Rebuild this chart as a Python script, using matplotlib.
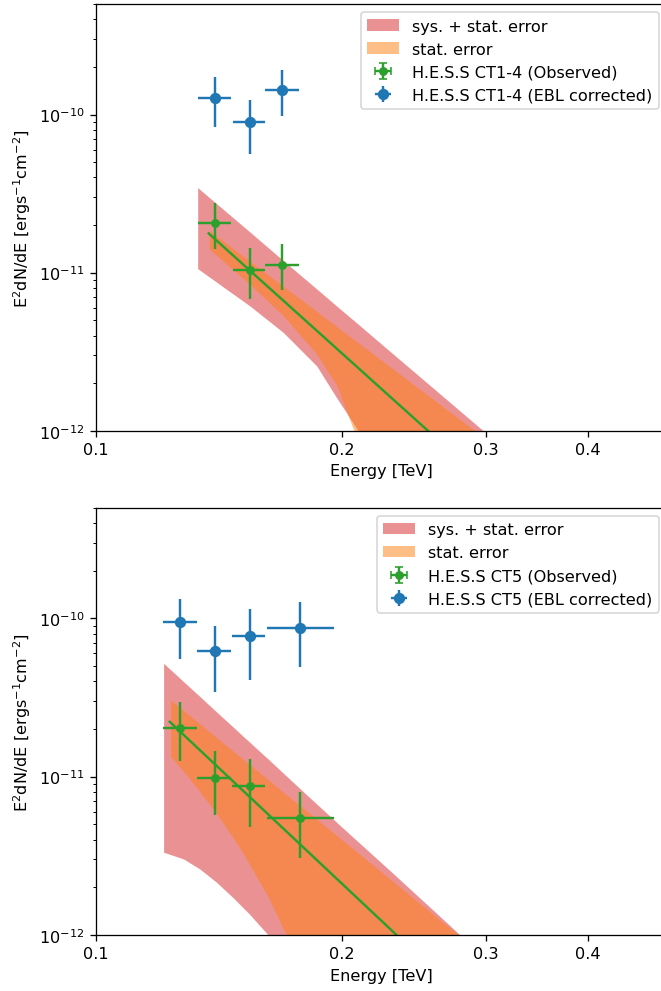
import numpy as np
import matplotlib
matplotlib.use("Agg")
import matplotlib.pyplot as plt
from matplotlib.ticker import NullLocator


# CT1-4 : flux points [TeV, erg s^-1 cm^-2]
# ------------------------------------------
ct14_e = [0.1398, 0.1542, 0.1690]
ct14_e_lo = [0.1334, 0.1470, 0.1610]
ct14_e_hi = [0.1463, 0.1610, 0.1770]
ct14_obs = [2.05e-11, 1.04e-11, 1.12e-11]
ct14_obs_lo = [1.42e-11, 6.8e-12, 7.8e-12]
ct14_obs_hi = [2.77e-11, 1.44e-11, 1.51e-11]
ct14_ebl = [1.27e-10, 8.95e-11, 1.44e-10]
ct14_ebl_lo = [8.4e-11, 5.67e-11, 9.75e-11]
ct14_ebl_hi = [1.73e-10, 1.24e-10, 1.905e-10]

# CT1-4 : butterflies and best fit
ct14_sys_e = [0.1332, 0.1376, 0.1543, 0.1696, 0.1863, 0.197, 0.2094, 0.23, 0.26, 0.2979]
ct14_sys_lo = [1.06e-11, 9.4e-12, 6.16e-12, 4.18e-12, 2.57e-12, 1.62e-12, 1e-12, 1e-12, 1e-12, 1e-12]
ct14_sys_hi = [3.45e-11, 2.99e-11, 1.81e-11, 1.19e-11, 7.89e-12, 6.16e-12, 4.72e-12, 3.12e-12, 1.82e-12, 1e-12]
ct14_stat_e = [0.1376, 0.1543, 0.1696, 0.1863, 0.197, 0.2069, 0.23, 0.26, 0.291]
ct14_stat_lo = [1.41e-11, 8.45e-12, 5.33e-12, 3.05e-12, 1.95e-12, 1e-12, 1e-12, 1e-12, 1e-12]
ct14_stat_hi = [1.85e-11, 1.18e-11, 8.19e-12, 5.69e-12, 4.57e-12, 3.78e-12, 2.50e-12, 1.55e-12, 1e-12]
ct14_fit_e = [0.1374, 0.2549]
ct14_fit_f = [1.77e-11, 1e-12]

# CT5 : flux points
# -----------------
ct5_e = [0.1269, 0.1398, 0.1542, 0.1779]
ct5_e_lo = [0.1208, 0.1330, 0.1468, 0.1618]
ct5_e_hi = [0.1329, 0.1465, 0.1610, 0.1957]
ct5_obs = [2.02e-11, 9.86e-12, 8.78e-12, 5.46e-12]
ct5_obs_lo = [1.256e-11, 5.73e-12, 4.83e-12, 3.08e-12]
ct5_obs_hi = [2.94e-11, 1.45e-11, 1.30e-11, 7.96e-12]
ct5_ebl = [9.53e-11, 6.22e-11, 7.77e-11, 8.73e-11]
ct5_ebl_lo = [5.53e-11, 3.44e-11, 4.08e-11, 4.91e-11]
ct5_ebl_hi = [1.32e-10, 8.99e-11, 1.145e-10, 1.26e-10]

# CT5 : butterflies and best fit
ct5_sys_e = [0.121, 0.128, 0.134, 0.1405, 0.147, 0.154, 0.1625, 0.18, 0.2, 0.23, 0.26, 0.279]
ct5_sys_lo = [3.33e-12, 3.02e-12, 2.61e-12, 2.15e-12, 1.73e-12, 1.36e-12, 1e-12, 1e-12, 1e-12, 1e-12, 1e-12, 1e-12]
ct5_sys_hi = [5.2e-11, 3.98e-11, 3.21e-11, 2.56e-11, 2.07e-11, 1.66e-11, 1.29e-11, 7.9e-12, 4.8e-12, 2.5e-12, 1.4e-12, 1e-12]
ct5_stat_e = [0.1234, 0.13, 0.14, 0.15, 0.1625, 0.171, 0.18, 0.2, 0.23, 0.26, 0.278]
ct5_stat_lo = [1.34e-11, 9.8e-12, 6.0e-12, 3.55e-12, 1.74e-12, 1e-12, 1e-12, 1e-12, 1e-12, 1e-12, 1e-12]
ct5_stat_hi = [3.05e-11, 2.45e-11, 1.79e-11, 1.34e-11, 9.57e-12, 7.7e-12, 6.22e-12, 4.0e-12, 2.22e-12, 1.32e-12, 1e-12]
ct5_fit_e = [0.1231, 0.2333]
ct5_fit_f = [2.22e-11, 1e-12]

x_ticks = [0.1, 0.2, 0.3, 0.4]
x_tick_labels = ["0.1", "0.2", "0.3", "0.4"]
y_ticks = [1e-12, 1e-11, 1e-10]

# the reference looks like a default-styled figure drawn at ~116 dpi
DPI = 116


def asym(val, lo, hi):
    val = np.asarray(val)
    return [val - np.asarray(lo), np.asarray(hi) - val]


def draw_panel(ax, p):
    sys_band = ax.fill_between(
        p["sys_e"], p["sys_lo"], p["sys_hi"],
        color="tab:red", alpha=0.5, linewidth=0,
        label="sys. + stat. error",
    )
    stat_band = ax.fill_between(
        p["stat_e"], p["stat_lo"], p["stat_hi"],
        color="tab:orange", alpha=0.5, linewidth=0,
        label="stat. error",
    )
    ax.plot(p["fit_e"], p["fit_f"], color="tab:green", linewidth=1.5)

    ax.errorbar(
        p["e"], p["obs"],
        xerr=asym(p["e"], p["e_lo"], p["e_hi"]),
        yerr=asym(p["obs"], p["obs_lo"], p["obs_hi"]),
        fmt="o", markersize=4.5, color="tab:green", elinewidth=1.5,
    )
    # legend proxy (the legend glyph has caps, the points do not)
    obs_proxy = ax.errorbar(
        [np.nan], [np.nan], xerr=[1.], yerr=[1.],
        fmt="o", markersize=4.5, color="tab:green", elinewidth=1.5,
        capsize=2.5, label=f"H.E.S.S {p['name']} (Observed)",
    )
    ebl = ax.errorbar(
        p["e"], p["ebl"],
        xerr=asym(p["e"], p["e_lo"], p["e_hi"]),
        yerr=asym(p["ebl"], p["ebl_lo"], p["ebl_hi"]),
        fmt="o", markersize=6, color="tab:blue", elinewidth=1.5,
        label=f"H.E.S.S {p['name']} (EBL corrected)",
    )

    ax.set_xscale("log")
    ax.set_yscale("log")
    ax.set_xlim(0.1, 0.5)
    ax.set_ylim(1e-12, 5e-10)
    ax.set_xticks(x_ticks)
    ax.set_xticklabels(x_tick_labels)
    ax.xaxis.set_minor_locator(NullLocator())
    ax.set_yticks(y_ticks)

    ax.set_xlabel("Energy [TeV]")
    ax.set_ylabel(r"E$^2$dN/dE [ergs$^{-1}$cm$^{-2}$]")
    ax.legend(
        handles=[sys_band, stat_band, obs_proxy, ebl],
        loc="upper right",
    )


if __name__ == "__main__":
    panels = [
        dict(name="CT1-4", e=ct14_e, e_lo=ct14_e_lo, e_hi=ct14_e_hi,
             obs=ct14_obs, obs_lo=ct14_obs_lo, obs_hi=ct14_obs_hi,
             ebl=ct14_ebl, ebl_lo=ct14_ebl_lo, ebl_hi=ct14_ebl_hi,
             sys_e=ct14_sys_e, sys_lo=ct14_sys_lo, sys_hi=ct14_sys_hi,
             stat_e=ct14_stat_e, stat_lo=ct14_stat_lo, stat_hi=ct14_stat_hi,
             fit_e=ct14_fit_e, fit_f=ct14_fit_f),
        dict(name="CT5", e=ct5_e, e_lo=ct5_e_lo, e_hi=ct5_e_hi,
             obs=ct5_obs, obs_lo=ct5_obs_lo, obs_hi=ct5_obs_hi,
             ebl=ct5_ebl, ebl_lo=ct5_ebl_lo, ebl_hi=ct5_ebl_hi,
             sys_e=ct5_sys_e, sys_lo=ct5_sys_lo, sys_hi=ct5_sys_hi,
             stat_e=ct5_stat_e, stat_lo=ct5_stat_lo, stat_hi=ct5_stat_hi,
             fit_e=ct5_fit_e, fit_f=ct5_fit_f),
    ]

    fig = plt.figure(figsize=(661 / DPI, 992 / DPI), dpi=DPI)
    # the right spine of the original is cut off by the image edge
    ax_top = fig.add_axes([0.1452, 0.5648, 0.8638, 0.4301])
    ax_bot = fig.add_axes([0.1452, 0.0565, 0.8638, 0.4308])

    draw_panel(ax_top, panels[0])
    draw_panel(ax_bot, panels[1])

    fig.savefig("out.png", dpi=DPI)
